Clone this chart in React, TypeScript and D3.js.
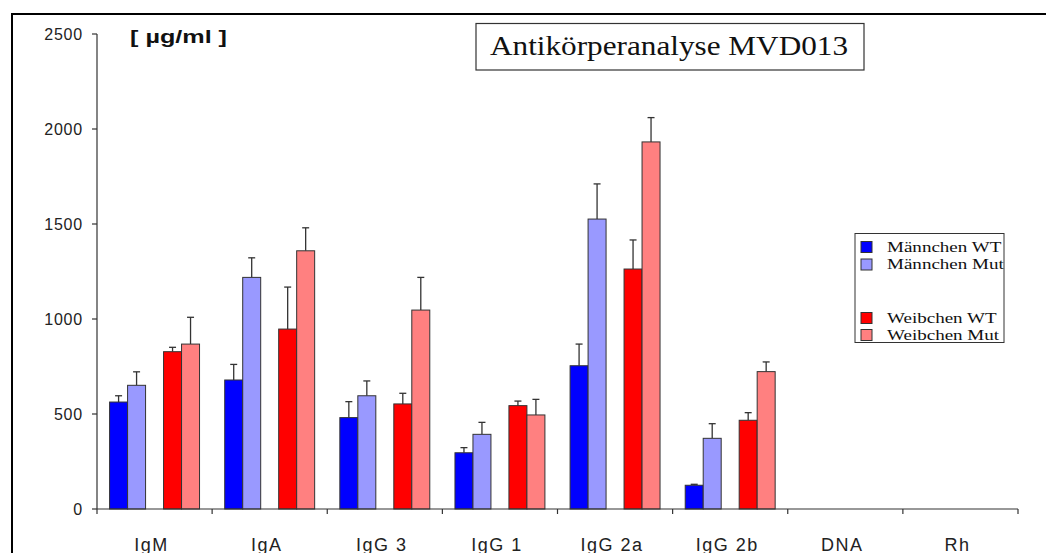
import React from "react";
import * as d3 from "d3";

const categories = ["IgM", "IgA", "IgG 3", "IgG 1", "IgG 2a", "IgG 2b", "DNA", "Rh"];
const seriesNames = ["Männchen WT", "Männchen Mut", "Weibchen WT", "Weibchen Mut"];
const seriesColors = ["#0000ff", "#9999ff", "#ff0000", "#ff8080"];
// values per category (null = no data)
const maleWT = [563, 679, 481, 296, 754, 125, null, null];
const maleWTErr = [596, 761, 565, 323, 868, 130, null, null];
const maleMut = [651, 1219, 596, 393, 1526, 372, null, null];
const maleMutErr = [722, 1322, 674, 456, 1711, 449, null, null];
const femaleWT = [828, 947, 553, 544, 1263, 467, null, null];
const femaleWTErr = [851, 1168, 609, 568, 1416, 507, null, null];
const femaleMut = [868, 1359, 1047, 495, 1932, 723, null, null];
const femaleMutErr = [1009, 1480, 1219, 577, 2060, 774, null, null];
const yTicks = [0, 500, 1000, 1500, 2000, 2500];

const values = [maleWT, maleMut, femaleWT, femaleMut];
const errTops = [maleWTErr, maleMutErr, femaleWTErr, femaleMutErr];
// slot index within group (slot 2 is empty gap series)
const slots = [0, 1, 3, 4];

export default function App() {
  const W = 1046, H = 553;
  const x0 = 97, x1 = 1018, y0 = 509, y1 = 34;
  const x = d3.scaleBand<string>().domain(categories).range([x0, x1]).padding(0);
  const inner = d3.scaleBand<number>().domain([0, 1, 2, 3, 4]).range([0, x.bandwidth()]).paddingInner(0).paddingOuter(0.7);
  const y = d3.scaleLinear().domain([0, 2500]).range([y0, y1]);
  const axisColor = "#333";
  const capW = 7;

  const legendRows = [247, 264.5, 318, 335];

  return (
    <svg width={W} height={H} style={{ display: "block", position: "absolute", left: 0, top: 0 }}>
      <rect x={0} y={0} width={W} height={H} fill="#fff" />
      {/* outer frame */}
      <rect x={12} y={14} width={W + 20} height={H + 20} fill="none" stroke="#000" strokeWidth={2} />

      {/* bars */}
      {values.map((vals, si) =>
        categories.map((c, ci) => {
          const v = vals[ci];
          if (v == null) return null;
          const bx = (x(c) as number) + (inner(slots[si]) as number);
          const bw = inner.bandwidth();
          const e = errTops[si][ci] as number;
          const cx = bx + bw / 2;
          return (
            <g key={`${si}-${ci}`}>
              <line x1={cx} x2={cx} y1={y(v)} y2={y(e)} stroke={axisColor} strokeWidth={1.3} />
              <line x1={cx - capW / 2} x2={cx + capW / 2} y1={y(e)} y2={y(e)} stroke={axisColor} strokeWidth={1.3} />
              <rect x={bx} y={y(v)} width={bw} height={y0 - y(v)} fill={seriesColors[si]} stroke={axisColor} strokeWidth={1} />
            </g>
          );
        })
      )}

      {/* y axis */}
      <line x1={x0} x2={x0} y1={y1} y2={y0} stroke={axisColor} strokeWidth={1.2} />
      {yTicks.map((t) => (
        <g key={t}>
          <line x1={x0 - 5} x2={x0} y1={y(t)} y2={y(t)} stroke={axisColor} strokeWidth={1.2} />
          <text x={83} y={y(t)} dy="0.36em" textAnchor="end" fontFamily="Liberation Sans, Arial, sans-serif" fontSize={16} fill="#222" letterSpacing={0.8}>
            {t}
          </text>
        </g>
      ))}

      {/* x axis */}
      <line x1={x0} x2={x1} y1={y0} y2={y0} stroke={axisColor} strokeWidth={1.2} />
      {categories.map((c) => (
        <line key={"t" + c} x1={x(c) as number} x2={x(c) as number} y1={y0} y2={y0 + 5} stroke={axisColor} strokeWidth={1.2} />
      ))}
      <line x1={x1} x2={x1} y1={y0} y2={y0 + 5} stroke={axisColor} strokeWidth={1.2} />
      {categories.map((c) => (
        <text key={"l" + c} x={(x(c) as number) + x.bandwidth() / 2 - 3} y={551} textAnchor="middle" fontFamily="Liberation Sans, Arial, sans-serif" fontSize={18} fill="#222" letterSpacing={1.5}>
          {c}
        </text>
      ))}

      {/* unit label */}
      <text x={130} y={43} fontFamily="Liberation Sans, Arial, sans-serif" fontWeight="bold" fontSize={19} textLength={97} lengthAdjust="spacingAndGlyphs" fill="#111">
        [ µg/ml ]
      </text>

      {/* title box */}
      <rect x={476} y={23.5} width={388} height={46.5} fill="#fff" stroke="#333" strokeWidth={1.2} />
      <text x={490} y={55} fontFamily="Liberation Serif, Times New Roman, serif" fontSize={27} textLength={358} lengthAdjust="spacingAndGlyphs" fill="#111">
        Antikörperanalyse MVD013
      </text>

      {/* legend */}
      <rect x={855} y={233.5} width={149} height={109} fill="#fff" stroke="#333" strokeWidth={1} />
      {seriesNames.map((n, i) => (
        <g key={n}>
          <rect x={861} y={legendRows[i] - 5.5} width={11} height={11} fill={seriesColors[i]} stroke="#333" strokeWidth={1} />
          <text transform={`translate(887,${legendRows[i] + 4.5}) scale(1.27,1)`} fontFamily="Liberation Serif, Times New Roman, serif" fontSize={15} fill="#111">
            {n}
          </text>
        </g>
      ))}
    </svg>
  );
}
